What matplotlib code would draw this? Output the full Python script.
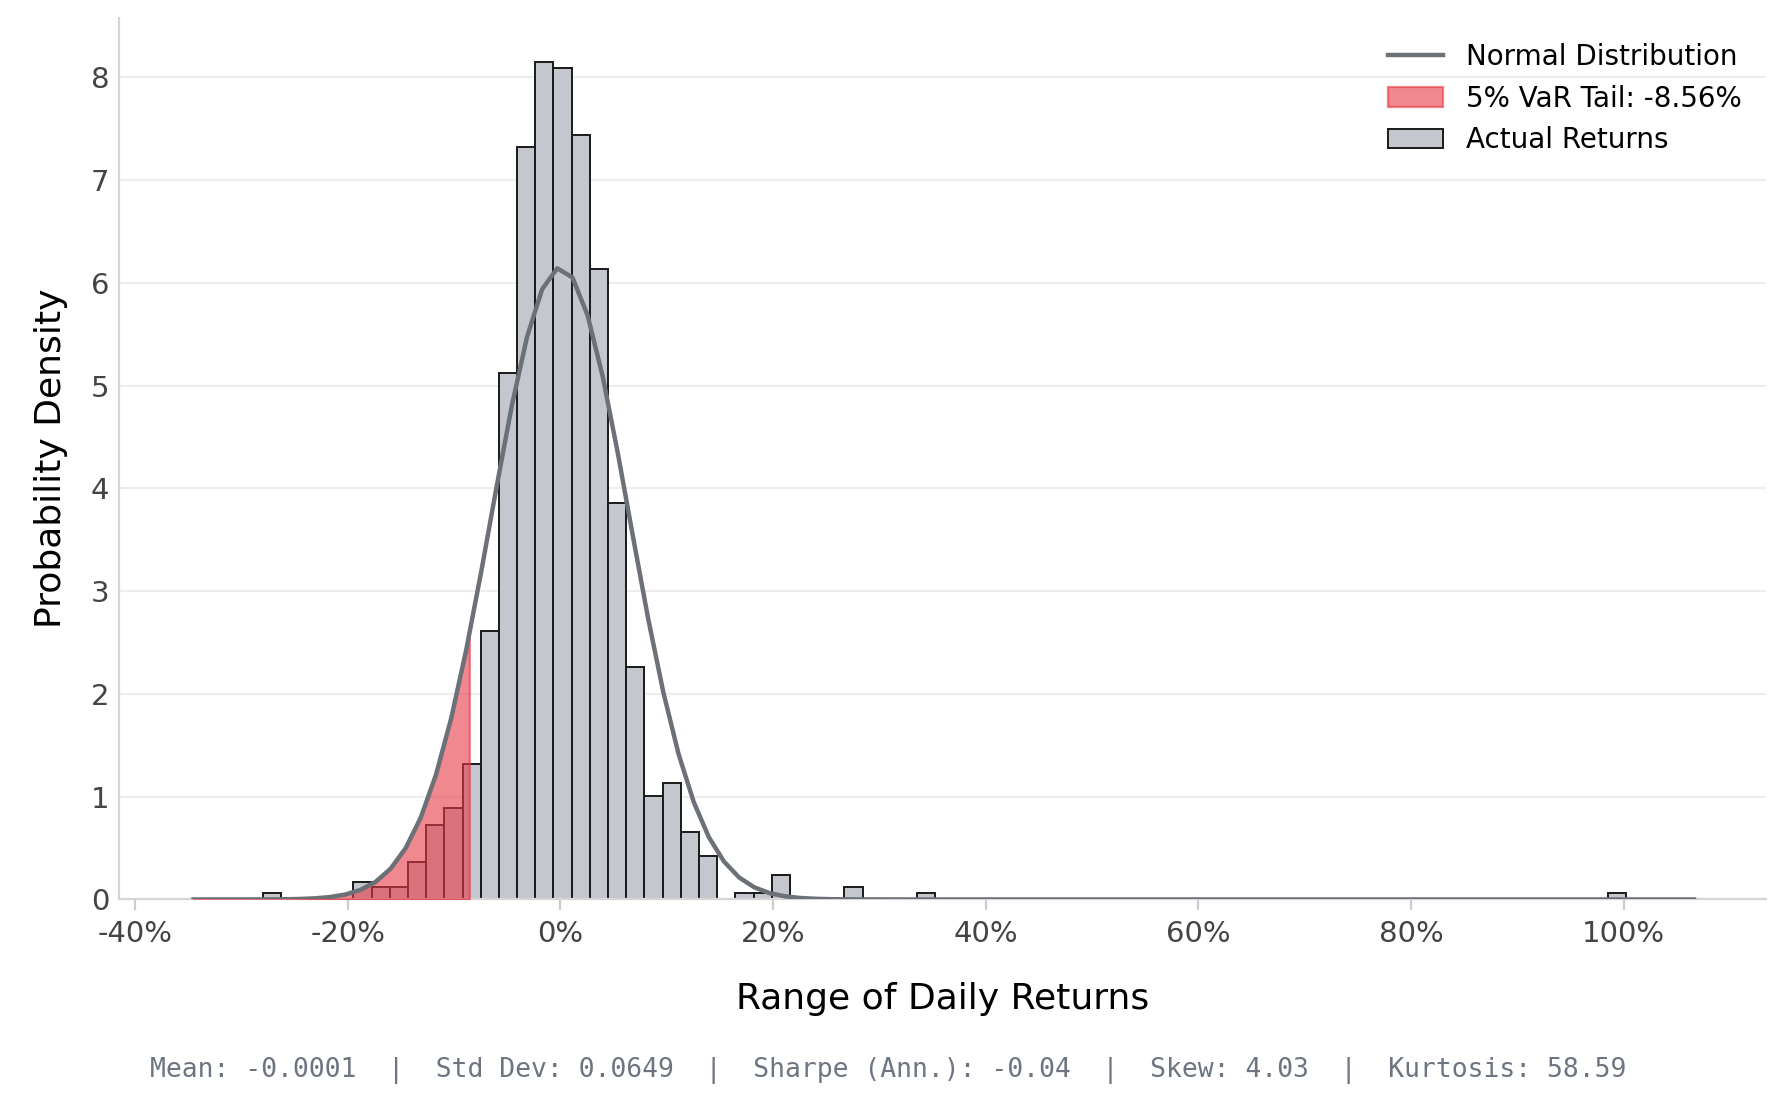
import numpy as np
import matplotlib.pyplot as plt
from matplotlib.ticker import FuncFormatter

# histogram bars (bin index relative to bin starting at -2.36%, width 1.71%)
bin_start = -0.0236
bin_width = 0.0171
bin_idx = [-15, -10, -9, -8, -7, -6, -5, -4, -3, -2, -1, 0, 1, 2, 3, 4, 5, 6, 7, 8, 9,
           11, 12, 13, 17, 21, 59]
density = [0.06, 0.17, 0.12, 0.12, 0.36, 0.72, 0.89, 1.32, 2.61, 5.12, 7.32, 8.15, 8.09,
           7.44, 6.13, 3.86, 2.26, 1.01, 1.13, 0.66, 0.42, 0.06, 0.06, 0.24, 0.12, 0.06, 0.06]

mean_ret = -0.0001
std_ret = 0.0649
var_5 = -0.0856
curve_lo, curve_hi = -0.345, 1.066
stats_text = ("Mean: -0.0001  |  Std Dev: 0.0649  |  Sharpe (Ann.): -0.04  |  "
              "Skew: 4.03  |  Kurtosis: 58.59")

fig = plt.figure(figsize=(8.885, 5.525), dpi=200)
ax = fig.add_axes([0.067, 0.186, 0.927, 0.798])

lefts = [bin_start + k * bin_width for k in bin_idx]
bars = ax.bar(lefts, density, width=bin_width, align="edge", color="#c4c8ce",
              edgecolor="#1a1a1a", linewidth=0.7, zorder=2, label="Actual Returns")

x = np.linspace(curve_lo, curve_hi, 100)
pdf = np.exp(-0.5 * ((x - mean_ret) / std_ret) ** 2) / (std_ret * np.sqrt(2 * np.pi))
line, = ax.plot(x, pdf, color="#6c7077", lw=1.6, zorder=4, label="Normal Distribution")
mask = x <= var_5
xt = np.append(x[mask], var_5)
pt = np.append(pdf[mask], np.exp(-0.5 * ((var_5 - mean_ret) / std_ret) ** 2) / (std_ret * np.sqrt(2 * np.pi)))
fill = ax.fill_between(xt, 0, pt, color="#e63946", alpha=0.6, edgecolor="#e63946",
                       linewidth=0.8, zorder=3, label="5% VaR Tail: -8.56%")

ax.set_xlim(-0.415, 1.134)
ax.set_ylim(0, 8.58)
ax.set_xticks(np.arange(-0.4, 1.01, 0.2))
ax.xaxis.set_major_formatter(FuncFormatter(lambda v, p: f"{v*100:.0f}%"))
ax.tick_params(colors="#444444", labelsize=10.5, length=4)
ax.tick_params(axis="x", colors="#cccccc", labelcolor="#444444")
ax.tick_params(axis="y", length=0)
ax.grid(axis="y", color="#eeeeee", lw=0.8, zorder=0)
ax.set_axisbelow(True)
for s in ["top", "right"]:
    ax.spines[s].set_visible(False)
for s in ["left", "bottom"]:
    ax.spines[s].set_color("#d5d5d5")

ax.set_xlabel("Range of Daily Returns", fontsize=13, labelpad=12)
ax.set_ylabel("Probability Density", fontsize=13, labelpad=8)

ax.legend(handles=[line, fill, bars], loc="upper right", frameon=False, fontsize=10)

fig.text(0.5, 0.025, stats_text, ha="center", family="DejaVu Sans Mono",
         fontsize=9.5, color="#6c7580")

fig.savefig("out.png", dpi=200)
